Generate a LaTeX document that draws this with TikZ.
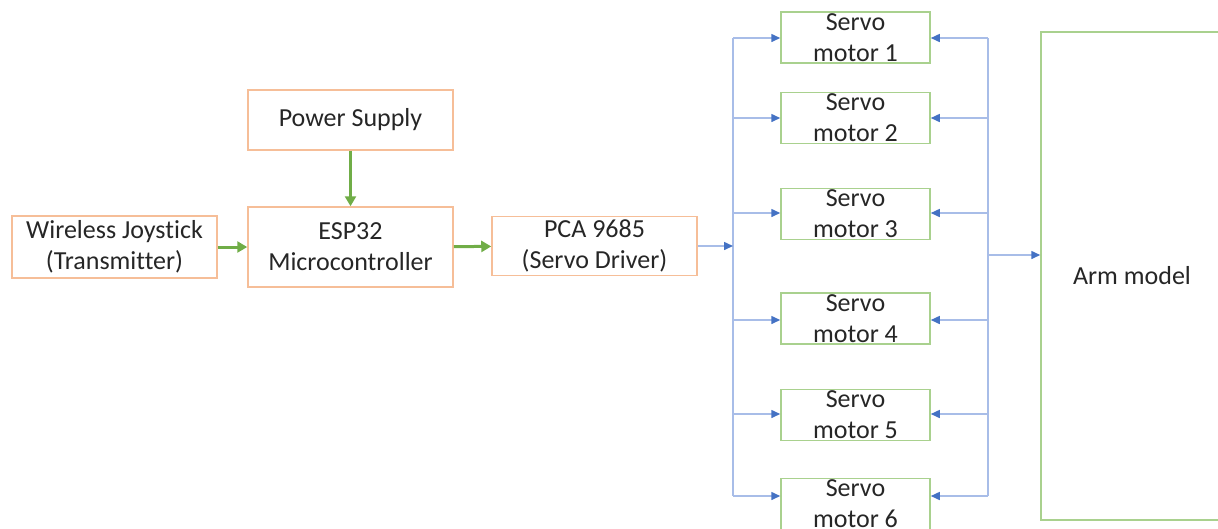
\documentclass[tikz,border=0pt]{standalone}
\usepackage{fontspec}
\setmainfont{Carlito}[Ligatures=NoCommon]
\usetikzlibrary{arrows.meta,positioning}
\definecolor{boxorange}{HTML}{F6BE98}
\definecolor{boxgreen}{HTML}{A9D18E}
\definecolor{feedgreen}{HTML}{70AD47}
\definecolor{buslight}{HTML}{A8BDE8}
\definecolor{busblue}{HTML}{4472C4}
\tikzset{
  block/.style = {align=center, inner sep=0pt, text centered, text=black!85,
    font=\fontsize{26}{31}\selectfont},
  ctrl/.style = {block, draw=boxorange, line width=1.5pt, minimum width=205pt},
  servo/.style = {block, draw=boxgreen, line width=1.5pt, minimum width=149pt, minimum height=51pt},
  feed/.style = {draw=feedgreen, line width=3pt, -{Triangle[length=10pt,width=11pt]}},
  bus/.style = {draw=buslight, line width=1.5pt},
  tap/.style = {bus, -{Triangle[length=9pt,width=8pt,color=busblue]}},
}

\begin{document}
\begin{tikzpicture}[x=1pt, y=-1pt]
  \useasboundingbox (0,0) rectangle (1218,528);

  % controller chain
  \node [ctrl, minimum height=62pt] (joy) at (114.5,247) {Wireless Joystick\\(Transmitter)};
  \node [ctrl, minimum height=80pt] (esp) at (350.5,247) {ESP32\\Microcontroller};
  \node [ctrl, minimum height=60pt] (psu) at (350.5,120) {Power Supply};
  \node [ctrl, minimum height=59pt] (pca) at (594.5,246) {PCA 9685\\(Servo Driver)};

  % servo motors
  \foreach \i/\y in {1/37.5, 2/118, 3/214, 4/318.5, 5/415, 6/504}
    \node [servo] (s\i) at (855.5,\y) {Servo\\motor \i};

  % arm
  \node [block, draw=boxgreen, line width=1.5pt, minimum width=182pt, minimum height=488pt]
    (arm) at (1132,276) {Arm model};

  \draw [feed] (joy) -- (esp);
  \draw [feed] (esp) -- (pca);
  \draw [feed] (psu) -- (esp);

  % bus lines
  \foreach \i/\y in {1/38, 2/118, 3/213, 4/320, 5/414, 6/496} {
    \coordinate (l\i) at (733,\y);
    \coordinate (r\i) at (988,\y);
  }
  \coordinate (ra) at (988,255);
  \draw [bus] (l1) -- (l6);
  \draw [bus] (r1) -- (r6);
  \draw [tap] (pca.east) -- (pca.east -| l1);
  \foreach \i in {1,...,6} {
    \draw [tap] (l\i) -- (l\i -| s\i.west);
    \draw [tap] (r\i) -- (r\i -| s\i.east);
  }
  \draw [tap] (ra) -- (ra -| arm.west);
\end{tikzpicture}
\end{document}
